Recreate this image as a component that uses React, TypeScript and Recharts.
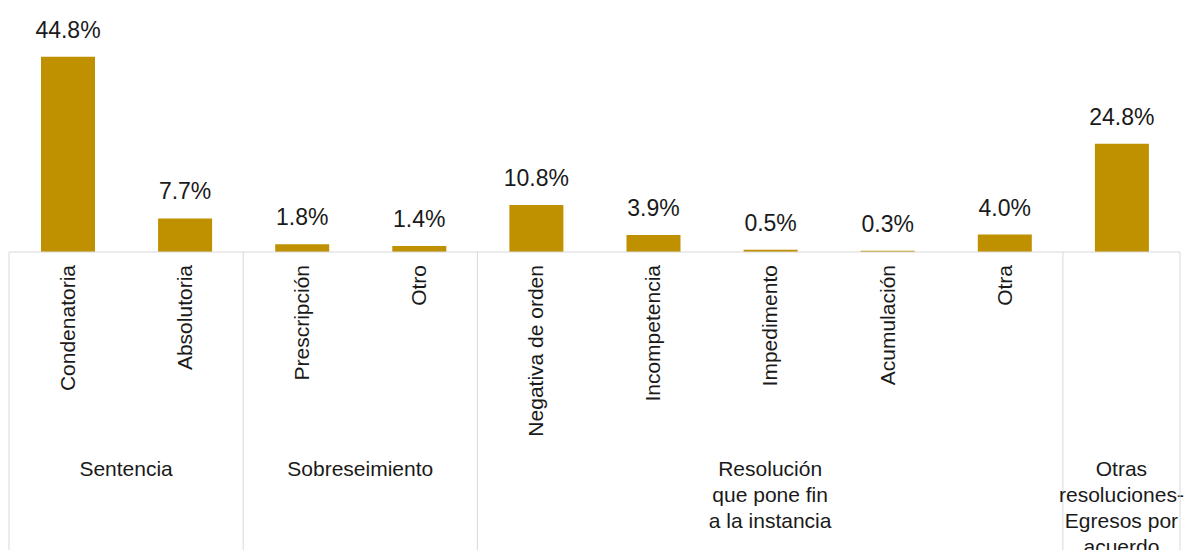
import React from "react";
import { BarChart, Bar, XAxis, YAxis, LabelList } from "recharts";

const categories = [
  "Condenatoria",
  "Absolutoria",
  "Prescripción",
  "Otro",
  "Negativa de orden",
  "Incompetencia",
  "Impedimento",
  "Acumulación",
  "Otra",
  "",
];
const values = [44.8, 7.7, 1.8, 1.4, 10.8, 3.9, 0.5, 0.3, 4.0, 24.8];

const groupLines = [
  ["Sentencia"],
  ["Sobreseimiento"],
  ["Resolución", "que pone fin", "a la instancia"],
  ["Otras", "resoluciones-", "Egresos por", "acuerdo"],
];
const groupSizes = [2, 2, 5, 1];

const data = categories.map((name, i) => ({ name, value: values[i] }));

const WIDTH = 1184;
const HEIGHT = 550;
const MARGIN = { top: 34, right: 4, left: 9, bottom: 0 };
const BAND = (WIDTH - MARGIN.left - MARGIN.right) / categories.length;
const FONT = "'Liberation Sans', Arial, sans-serif";
const GRID = "#d9d9d9";

// first index of each group
const groupStarts = groupSizes.map((_, g) =>
  groupSizes.slice(0, g).reduce((a, b) => a + b, 0)
);

function CategoryTick(props: any) {
  const { x, y, payload } = props;
  const i = payload.index;
  const g = groupStarts.indexOf(i);
  return (
    <g>
      {payload.value && (
        <text
          x={x}
          y={y + 13}
          transform={`rotate(-90, ${x}, ${y + 13})`}
          textAnchor="end"
          dy="0.35em"
          fontSize={21}
          fontFamily={FONT}
          fill="#1a1a1a"
        >
          {payload.value}
        </text>
      )}
      {g >= 0 && (
        <>
          <line x1={x - BAND / 2} x2={x - BAND / 2} y1={y} y2={HEIGHT} stroke={GRID} />
          {groupLines[g].map((line, k) => (
            <text
              key={k}
              x={x + ((groupSizes[g] - 1) * BAND) / 2}
              y={y + 224 + k * 26}
              textAnchor="middle"
              fontSize={21}
              fontFamily={FONT}
              fill="#1a1a1a"
            >
              {line}
            </text>
          ))}
        </>
      )}
      {i === categories.length - 1 && (
        <line x1={x + BAND / 2} x2={x + BAND / 2} y1={y} y2={HEIGHT} stroke={GRID} />
      )}
    </g>
  );
}

function ValueLabel(props: any) {
  const { x, y, width, value } = props;
  return (
    <text
      x={x + width / 2}
      y={y - 19}
      textAnchor="middle"
      fontSize={23}
      fontFamily={FONT}
      fill="#1a1a1a"
    >
      {Number(value).toFixed(1)}%
    </text>
  );
}

export default function App() {
  return (
    <div style={{ position: "absolute", left: 0, top: 0, background: "#fff" }}>
      <BarChart width={WIDTH} height={HEIGHT} data={data} margin={MARGIN}>
        <XAxis
          dataKey="name"
          height={HEIGHT - MARGIN.top - 218}
          interval={0}
          tickLine={false}
          tickSize={0}
          tickMargin={0}
          axisLine={{ stroke: GRID }}
          tick={<CategoryTick />}
        />
        <YAxis hide domain={[0, 50]} />
        <Bar dataKey="value" fill="#bf9000" barSize={54} isAnimationActive={false}>
          <LabelList dataKey="value" content={<ValueLabel />} />
        </Bar>
      </BarChart>
    </div>
  );
}
